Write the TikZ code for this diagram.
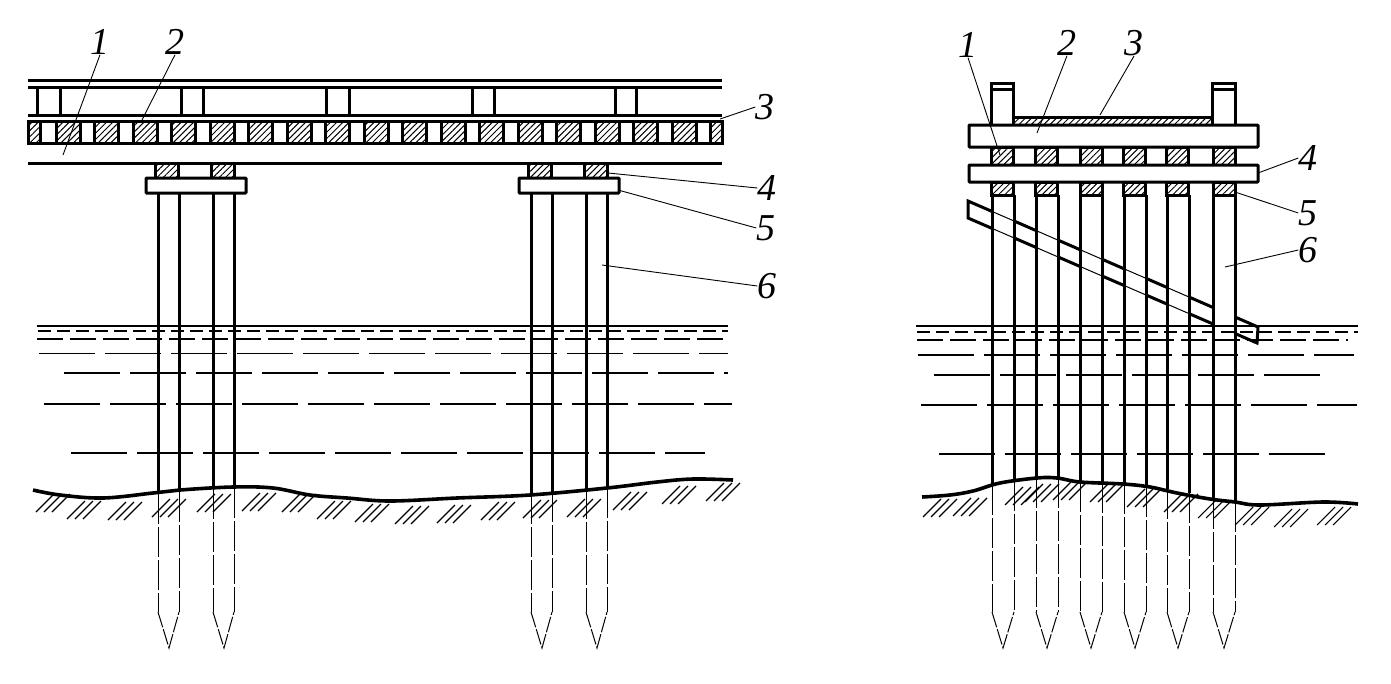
\documentclass[tikz,border=0pt]{standalone}
\usepackage{fontspec}
\setmainfont{Liberation Serif}
\usetikzlibrary{patterns.meta}
\tikzset{
  heavy/.style={line width=3pt},
  member/.style={draw, line width=3pt, fill=white, rounded corners=0.8pt},
  block/.style={draw, line width=3pt, pattern={Lines[angle=45,distance=4.4pt,line width=1pt]}},
  buried/.style={line width=1pt, dash pattern=on 30pt off 3pt},
  tip/.style={line width=1pt, dash pattern=on 16pt off 2pt},
  ground/.style={line width=3.6pt, smooth, tension=0.6},
  shade/.style={line width=1.1pt},
  leader/.style={line width=0.9pt},
  wave/.style={line width=1.3pt},
  num/.style={font=\fontsize{38}{38}\selectfont\itshape, inner sep=0pt}
}
\begin{document}
\begin{tikzpicture}[x=1pt, y=-1pt]
  \useasboundingbox (0,0) rectangle (1391,683);

  % Water, left view
  \draw[line width=2.6pt] (37,326) -- (728,326);
  \draw[wave, dash pattern=on 13pt off 6pt] (38,331) -- (728,331);
  \draw[wave, dash pattern=on 26pt off 7pt] (37,339) -- (726,339);
  \draw[wave, dash pattern=on 56pt off 10pt] (39,353.5) -- (728,353.5);
  \draw[wave, dash pattern=on 56pt off 10pt] (64,373) -- (728,373);
  \draw[wave, dash pattern=on 56pt off 10pt] (44,404) -- (732,404);
  \draw[wave, dash pattern=on 56pt off 10pt] (71,453) -- (705,453);

  % Water, right view
  \draw[line width=2.6pt] (916,326) -- (1358,326);
  \draw[wave, dash pattern=on 13pt off 6pt] (917,332) -- (1358,332);
  \draw[wave, dash pattern=on 26pt off 7pt] (917,340) -- (1348,340);
  \draw[wave, dash pattern=on 56pt off 10pt] (918,355) -- (1354,355);
  \draw[wave, dash pattern=on 56pt off 10pt] (934,375) -- (1322,375);
  \draw[wave, dash pattern=on 56pt off 10pt] (921,405) -- (1357,405);
  \draw[wave, dash pattern=on 56pt off 10pt] (939,454) -- (1326,454);

  % Deck, left view
  \foreach \y in {80,87,115,121,143,163}
    \draw[heavy] (28,\y) -- (722,\y);
  \foreach \x/\xx in {37/60,181/203,326/349,472/494,615/636}
    \draw[heavy] (\x,87) -- (\x,115) (\xx,87) -- (\xx,115);
  \draw[block] (28,121) rectangle (40,143);
  \foreach \k in {0,...,16}
    \draw[block] ({56+38.5*\k},121) rectangle ++(24,22);
  \draw[block] (710.5,121) rectangle (722,143);

  % Caps and piles, left view
  \foreach \x in {146,519} {
    \draw[block] ({\x+9.5},163) rectangle ++(23,15);
    \draw[block] ({\x+65},163) rectangle ++(23,15);
    \draw[member] (\x,178) rectangle ++(100,15);
    \draw[heavy] ({\x+12},193) -- ({\x+12},494) ({\x+33},193) -- ({\x+33},492);
    \draw[heavy] ({\x+67},193) -- ({\x+67},489) ({\x+88},193) -- ({\x+88},488);
    \draw[buried] ({\x+12},494) -- ({\x+12},612);
    \draw[buried] ({\x+33},492) -- ({\x+33},612);
    \draw[tip] ({\x+12},612) -- ({\x+23},648) -- ({\x+33},612);
    \draw[buried] ({\x+67},489) -- ({\x+67},612);
    \draw[buried] ({\x+88},488) -- ({\x+88},612);
    \draw[tip] ({\x+67},612) -- ({\x+78},648) -- ({\x+88},612);
  }

  % Bed, left view
  \draw[ground] plot coordinates {(33,490) (60,495) (103,498) (153,493) (180,490) (233,487)
    (273,488) (310,495) (347,498) (390,501) (457,498) (530,495) (607,488) (657,482) (693,479) (733,480)};
  \foreach \x/\y in {36/512,67/519,108/520,152/517,197/512,242/511,282/512,317/519,
    355/522,395/524,437/523,481/520,523/518,567/517,613/510,662/504,706/501}
    \foreach \d in {0,8,16}
      \draw[shade] (\x+\d,\y) -- ++(18,-18);

  % Deck and railing, right view
  \draw[heavy] (991,125) -- (991,83) -- (1013,83) -- (1013,125);
  \draw[heavy] (991,89) -- (1013,89);
  \draw[heavy] (1212,125) -- (1212,83) -- (1235,83) -- (1235,125);
  \draw[heavy] (1212,89) -- (1235,89);
  \draw[block] (1013,117) rectangle (1212,125);
  \foreach \x in {991,1035,1080,1123,1166,1213} {
    \draw[block] (\x,147) rectangle ++(22,18);
    \draw[block] (\x,182) rectangle ++(22,13);
  }
  \draw[member] (969,125) rectangle (1258,147);
  \draw[member] (969,165) rectangle (1258,182);

  % Brace
  \begin{scope}
    \clip (960,190) rectangle (1213,350);
    \draw[line width=1pt] (968,201) -- (1258,327) (968,218) -- (1257,343);
  \end{scope}
  \begin{scope}
    \clip (960,190) rectangle (992,350) (1013,190) rectangle (1036,350)
      (1057,190) rectangle (1080,350) (1102,190) rectangle (1124,350)
      (1146,190) rectangle (1167,350) (1188,190) rectangle (1213,350)
      (1235,190) rectangle (1270,350);
    \draw[heavy] (968,201) -- (1258,327) -- (1257,343) -- (968,218) -- cycle;
  \end{scope}

  % Piles, right view
  \foreach \x/\a/\b/\t in {992/485/481/1003,1036/478/478/1047,1080/482/483/1091,
    1124/484/487/1135,1167/489/493/1178,1213/499/502/1224} {
    \draw[heavy] (\x,195) -- (\x,\a);
    \draw[heavy] ({\x+22},195) -- ({\x+22},\b);
    \draw[buried] (\x,\a) -- (\x,612);
    \draw[buried] ({\x+22},\b) -- ({\x+22},612);
    \draw[tip] (\x,612) -- (\t,648) -- ({\x+22},612);
  }

  % Bed, right view
  \draw[ground] plot coordinates {(922,497) (950,495) (973,491) (1000,483) (1037,478) (1057,478) (1080,482)
    (1123,484) (1150,487) (1177,493) (1210,499) (1235,502) (1260,505) (1323,502) (1358,504)};
  \foreach \x/\y in {923/517,953/516,1005/505,1025/502,1053/500,1090/502,1127/507,
    1164/512,1198/518,1235/525,1274/527,1317/525}
    \foreach \d in {0,8,16}
      \draw[shade] (\x+\d,\y) -- ++(18,-18);

  % Labels, left view
  \node[num] (la1) at (100,42) {1};
  \node[num] (la2) at (175,42) {2};
  \node[num] (la3) at (765,107) {3};
  \node[num] (la4) at (767,188) {4};
  \node[num] (la5) at (766,228) {5};
  \node[num] (la6) at (767,286) {6};
  \coordinate (pa1) at (63,155);
  \coordinate (pa2) at (142,120);
  \coordinate (pa3) at (720,119);
  \coordinate (pa4) at (608,173);
  \coordinate (pa5) at (618,190);
  \coordinate (pa6) at (602,265);
  \draw[leader] (la1.south) -- (pa1);
  \draw[leader] (la2.south) -- (pa2);
  \draw[leader] (la3.west) -- (pa3);
  \draw[leader] (la4.west) -- (pa4);
  \draw[leader] (la5.west) -- (pa5);
  \draw[leader] (la6.west) -- (pa6);

  % Labels, right view
  \node[num] (lb1) at (968,45) {1};
  \node[num] (lb2) at (1067,43) {2};
  \node[num] (lb3) at (1134,43) {3};
  \node[num] (lb4) at (1308,158) {4};
  \node[num] (lb5) at (1308,213) {5};
  \node[num] (lb6) at (1308,250) {6};
  \coordinate (pb1) at (1000,155);
  \coordinate (pb2) at (1037,133);
  \coordinate (pb3) at (1100,115);
  \coordinate (pb4) at (1258,173);
  \coordinate (pb5) at (1235,192);
  \coordinate (pb6) at (1225,267);
  \draw[leader] (lb1.south) -- (pb1);
  \draw[leader] (lb2.south) -- (pb2);
  \draw[leader] (lb3.south) -- (pb3);
  \draw[leader] (lb4.west) -- (pb4);
  \draw[leader] (lb5.west) -- (pb5);
  \draw[leader] (lb6.west) -- (pb6);
\end{tikzpicture}
\end{document}
